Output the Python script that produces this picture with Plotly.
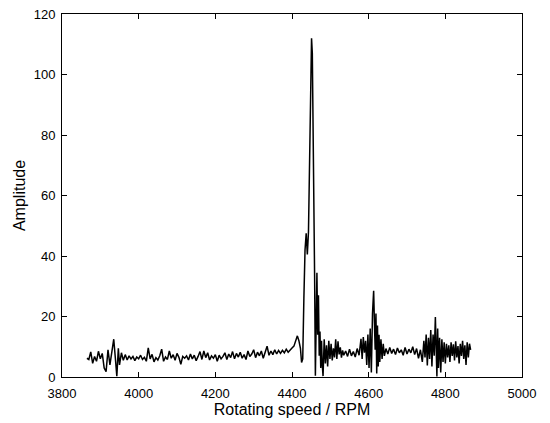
import plotly.graph_objects as go

rpm = [
    3865, 3870, 3875, 3880, 3885, 3890, 3895, 3900, 3905, 3910, 3915, 3920, 3925, 3930, 3935, 3940, 3943, 3947, 3950, 3955,
    3960, 3965, 3970, 3975, 3980, 3985, 3990, 3995, 4000, 4005, 4010, 4015, 4020, 4025, 4030, 4035, 4040, 4045, 4050, 4055,
    4060, 4065, 4070, 4075, 4080, 4085, 4090, 4095, 4100, 4105, 4110, 4115, 4120, 4125, 4130, 4135, 4140, 4145, 4150, 4155,
    4160, 4165, 4170, 4175, 4180, 4185, 4190, 4195, 4200, 4205, 4210, 4215, 4220, 4225, 4230, 4235, 4240, 4245, 4250, 4255,
    4260, 4265, 4270, 4275, 4280, 4285, 4290, 4295, 4300, 4305, 4310, 4315, 4320, 4325, 4330, 4335, 4340, 4345, 4350, 4355,
    4360, 4365, 4370, 4375, 4380, 4385, 4390, 4395, 4400, 4405, 4410, 4414, 4418, 4422, 4425, 4428, 4431, 4434, 4437, 4440,
    4443, 4446, 4449, 4451, 4453, 4455, 4457, 4459, 4461, 4463, 4465, 4467, 4469, 4471, 4473, 4475, 4477, 4479, 4481, 4484,
    4487, 4490, 4493, 4496, 4499, 4502, 4505, 4508, 4511, 4514, 4517, 4520, 4523, 4526, 4529, 4532, 4535, 4540, 4545, 4550,
    4555, 4560, 4565, 4570, 4575, 4580, 4583, 4586, 4589, 4592, 4595, 4598, 4601, 4604, 4607, 4610, 4613, 4615, 4617, 4619,
    4621, 4623, 4625, 4627, 4629, 4632, 4635, 4638, 4641, 4645, 4650, 4655, 4660, 4665, 4670, 4675, 4680, 4685, 4690, 4695,
    4700, 4705, 4710, 4715, 4720, 4725, 4730, 4735, 4740, 4744, 4747, 4750, 4753, 4756, 4759, 4762, 4765, 4768, 4771, 4774,
    4776, 4778, 4780, 4782, 4785, 4788, 4791, 4794, 4797, 4800, 4803, 4806, 4809, 4812, 4815, 4818, 4821, 4824, 4827, 4830,
    4833, 4836, 4839, 4842, 4845, 4848, 4851, 4854, 4857, 4860, 4863, 4866,
]

amplitude = [
    6.2, 5.8, 8.3, 4.5, 6.8, 5.2, 8.5, 6.0, 7.8, 3.0, 1.8, 9.0, 4.0, 8.0, 12.5, 5.0, 0.3, 9.5, 4.0, 8.0,
    5.5, 7.4, 5.6, 7.0, 6.0, 6.8, 5.4, 6.6, 6.0, 7.2, 5.8, 6.5, 5.2, 9.6, 6.0, 7.5, 5.0, 6.4, 5.6, 7.0,
    9.2, 5.2, 6.6, 5.8, 8.6, 6.2, 7.4, 5.5, 7.8, 6.5, 4.2, 6.8, 6.2, 7.0, 5.6, 7.6, 6.0, 7.2, 5.4, 6.8,
    8.4, 5.8, 8.6, 6.4, 8.0, 5.6, 7.0, 6.2, 7.4, 5.2, 7.2, 6.0, 6.8, 8.0, 5.8, 7.6, 6.4, 8.4, 6.0, 7.8,
    6.6, 8.2, 6.2, 7.4, 5.8, 8.6, 6.8, 7.6, 9.0, 6.4, 8.2, 7.0, 8.6, 6.2, 8.0, 10.2, 7.2, 8.6, 7.4, 9.0,
    7.6, 8.8, 7.8, 8.8, 8.0, 9.2, 8.2, 9.0, 9.6, 10.2, 11.8, 13.6, 12.0, 9.5, 4.8, 6.0, 26.0, 42.0, 47.5, 40.5,
    48.0, 72.0, 100.0, 112.0, 107.0, 72.0, 36.0, 33.0, 0.4, 22.0, 34.5, 14.0, 27.0, 7.0, 15.0, 3.0, 12.0, 4.0, 0.3, 12.5,
    4.5, 10.5, 3.5, 12.0, 6.0, 11.0, 5.5, 9.5, 6.5, 12.5, 6.0, 11.8, 7.5, 9.8, 6.4, 8.8, 7.2, 8.6, 6.8, 9.2,
    7.0, 8.4, 6.6, 9.4, 7.2, 12.6, 6.0, 13.2, 8.0, 12.0, 4.0, 14.0, 3.0, 16.0, 1.5, 21.0, 28.5, 18.0, 9.0, 21.0,
    1.2, 17.0, 3.5, 14.0, 5.0, 12.5, 6.0, 11.0, 7.0, 9.4, 7.6, 9.8, 7.8, 9.2, 7.4, 9.6, 8.0, 9.0, 7.2, 9.8,
    7.6, 9.2, 8.0, 10.0, 7.4, 9.4, 6.2, 9.0, 5.0, 12.0, 6.5, 14.0, 3.8, 13.0, 6.0, 15.5, 3.5, 14.0, 7.0, 19.8,
    10.0, 0.2, 16.0, 3.0, 13.0, 1.5, 12.5, 5.0, 11.5, 4.5, 11.0, 6.5, 10.5, 5.0, 11.5, 7.0, 10.8, 5.5, 11.8, 6.5,
    10.2, 4.5, 11.0, 7.0, 12.0, 6.0, 10.5, 4.0, 11.5, 6.5, 11.0, 9.0,
]

x_ticks = [3800, 4000, 4200, 4400, 4600, 4800, 5000]
y_ticks = [0, 20, 40, 60, 80, 100, 120]

FONT = "Liberation Sans, Arial, sans-serif"

fig = go.Figure()
fig.add_trace(go.Scatter(
    x=rpm, y=amplitude, mode="lines",
    line=dict(color="black", width=1.5),
    showlegend=False,
))

axis_common = dict(
    showline=True, linecolor="black", linewidth=1,
    mirror="ticks", ticks="inside", ticklen=5, tickwidth=1, tickcolor="black",
    showgrid=False, zeroline=False, automargin=False,
    ticklabeloverflow="allow",
    tickfont=dict(family=FONT, size=13, color="black"),
)

fig.update_xaxes(
    range=[3800, 5000], tickvals=x_ticks, ticktext=[str(v) for v in x_ticks],
    ticklabelstandoff=4,
    title=dict(text="Rotating speed / RPM", standoff=2,
               font=dict(family=FONT, size=16, color="black")),
    **axis_common,
)
fig.update_yaxes(
    range=[0, 120], tickvals=y_ticks, ticktext=[str(v) for v in y_ticks],
    ticklabelstandoff=3,
    title=dict(text="Amplitude", standoff=4,
               font=dict(family=FONT, size=16, color="black")),
    **axis_common,
)

# the page body adds an 8px offset, so the figure is sized to the visible area
fig.update_layout(
    width=542, height=415,
    margin=dict(l=54, r=28, t=6, b=46),
    paper_bgcolor="white", plot_bgcolor="white",
)

fig.write_html("out.html")
